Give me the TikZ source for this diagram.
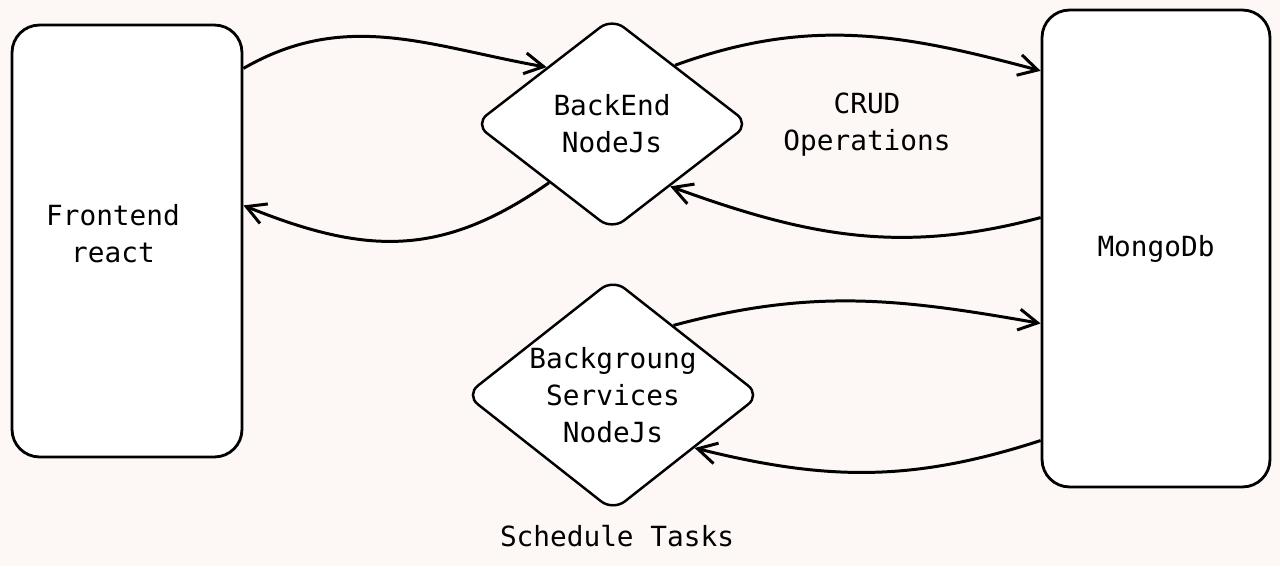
\documentclass[tikz,border=0pt]{standalone}
\usepackage{fontspec}
\setmonofont{DejaVu Sans Mono}
\usetikzlibrary{shapes.geometric,arrows.meta}
\definecolor{paper}{RGB}{253,248,245}

\begin{document}
\begin{tikzpicture}[x=0.02cm,y=0.02cm,
	font=\ttfamily\fontsize{15.8}{21}\selectfont,
	box/.style={shape=rectangle,draw=black,fill=white,line width=1.6pt,rounded corners=0.55cm,inner sep=0pt,align=center},
	gate/.style={shape=diamond,draw=black,fill=white,line width=1.4pt,rounded corners=0.3cm,inner sep=-0.15cm,align=center},
	flow/.style={-{Straight Barb[length=0.38cm,width=0.42cm]},line width=1.7pt}]

	\fill[paper] (0,0) rectangle (1280,566);

	\node[box,minimum width=4.6cm,minimum height=8.64cm,
		label={[name=fronttxt,align=center,xshift=-0.28cm,yshift=0.14cm]center:Frontend\\react}] (front) at (127,325) {};
	\node[box,minimum width=4.56cm,minimum height=9.54cm] (mongo) at (1156,317.5) {MongoDb};
	\node[gate,minimum width=5.5cm,minimum height=4.25cm] (back) at (612,442) {BackEnd\\NodeJs};
	\node[gate,minimum width=5.9cm,minimum height=4.6cm] (bgsvc) at (613,171) {Backgroung\\Services\\NodeJs};

	\node[align=center] (crud) at (867,441) {CRUD\\Operations};
	\node (sched) at (617,30) {Schedule Tasks};

	\path[flow] (front.56) edge [out=30,in=170] (back.139);
	\path[flow] (back.43) edge [out=20,in=165] (mongo.123);
	\path[flow] (mongo.165) edge [out=195,in=-20] (back.313);
	\path[flow] (back.223) edge [out=215,in=-22,looseness=1.1] (front.17);
	\path[flow] (bgsvc.49) edge [out=15,in=170] (mongo.213);
	\path[flow] (mongo.239) edge [out=198,in=-14] (bgsvc.327);

\end{tikzpicture}
\end{document}
